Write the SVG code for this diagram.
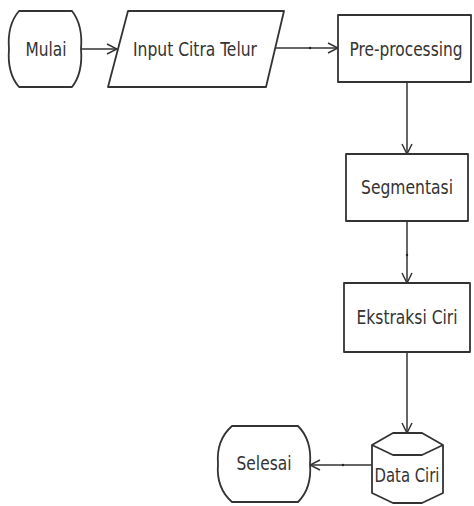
<svg xmlns="http://www.w3.org/2000/svg" width="474" height="506" viewBox="0 0 474 506">
<style>
.node{fill:#fff;stroke:#333;stroke-width:1.8;stroke-linejoin:round}
.lbl{font-family:"DejaVu Sans Condensed","DejaVu Sans",sans-serif;font-size:20px;fill:#333;text-anchor:middle;dominant-baseline:central}
.edge{fill:none;stroke:#333;stroke-width:1.5}
.dot{fill:#222}
</style>
<defs>
<marker id="arr" viewBox="0 0 12 12" refX="11" refY="6" markerWidth="12" markerHeight="12" markerUnits="userSpaceOnUse" orient="auto">
<path d="M1,1 L11,6 L1,11" fill="none" stroke="#333" stroke-width="1.5"/>
</marker>
</defs>
<rect width="474" height="506" fill="#fff"/>
<g id="connectors">
<path class="edge" d="M81,49 H117" marker-end="url(#arr)"/>
<path class="edge" d="M275,48 H338" marker-end="url(#arr)"/>
<path class="edge" d="M407,82 V154" marker-end="url(#arr)"/>
<path class="edge" d="M407,221 V283" marker-end="url(#arr)"/>
<path class="edge" d="M407,352 V433" marker-end="url(#arr)"/>
<path class="edge" d="M372,465 H310" marker-end="url(#arr)"/>
<circle class="dot" cx="310" cy="48" r="1.2"/>
<circle class="dot" cx="407" cy="255" r="1.2"/>
<circle class="dot" cx="343" cy="465" r="1.2"/>
</g>
<g id="mulai">
<path class="node" d="M19,11 H72 Q83,25 81,49 Q83,73 72,87 H19 Q7,73 9,49 Q7,25 19,11 Z"/>
<text class="lbl" x="46" y="49" textLength="41" lengthAdjust="spacingAndGlyphs">Mulai</text>
</g>
<g id="input">
<path class="node" d="M128,11 H284 L266,87 H108 Z"/>
<text class="lbl" x="195" y="49" textLength="124" lengthAdjust="spacingAndGlyphs">Input Citra Telur</text>
</g>
<g id="preprocessing">
<rect class="node" x="338" y="15" width="133" height="67"/>
<text class="lbl" x="406" y="49" textLength="113" lengthAdjust="spacingAndGlyphs">Pre-processing</text>
</g>
<g id="segmentasi">
<rect class="node" x="346" y="154" width="122" height="67"/>
<text class="lbl" x="407" y="187" textLength="92" lengthAdjust="spacingAndGlyphs">Segmentasi</text>
</g>
<g id="ekstraksi">
<rect class="node" x="344" y="283" width="126" height="69"/>
<text class="lbl" x="407" y="317" textLength="101" lengthAdjust="spacingAndGlyphs">Ekstraksi Ciri</text>
</g>
<g id="dataciri">
<path class="node" d="M393,433 H422 L443,445 V493 L422,503 H393 L372,493 V445 Z"/>
<path class="node" fill="none" d="M372,445 L393,455 H422 L443,445"/>
<text class="lbl" x="407" y="475" textLength="65" lengthAdjust="spacingAndGlyphs">Data Ciri</text>
</g>
<g id="selesai">
<path class="node" d="M232,426 H298 Q312,440 310,464 Q312,488 298,502 H232 Q216,488 218,464 Q216,440 232,426 Z"/>
<text class="lbl" x="264" y="463" textLength="55" lengthAdjust="spacingAndGlyphs">Selesai</text>
</g>
</svg>
